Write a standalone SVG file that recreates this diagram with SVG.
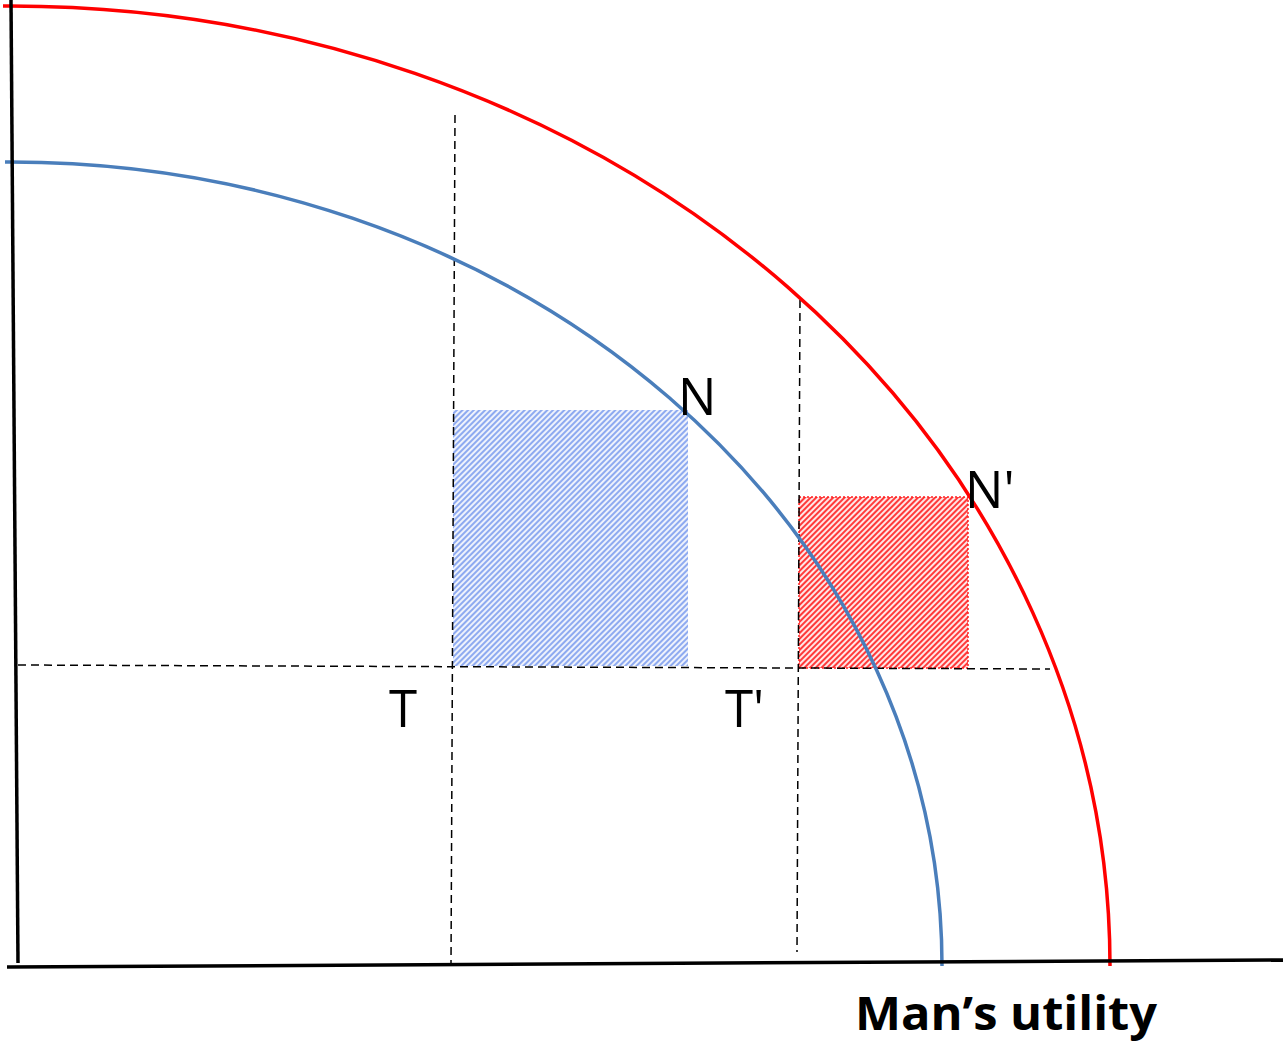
<svg xmlns="http://www.w3.org/2000/svg" width="1283" height="1046" viewBox="0 0 1283 1046">
<style>
.axis{stroke:#000;stroke-width:3.5;fill:none}
.dash{stroke:#000;stroke-width:1.5;stroke-dasharray:8 5;fill:none}
.lbl{font-family:"Open Sans","Liberation Sans",sans-serif;font-size:51px;fill:#000}
.ttl{font-family:"Open Sans","Liberation Sans",sans-serif;font-size:46px;font-weight:bold;fill:#000}
</style>
<defs>
<pattern id="hb" patternUnits="userSpaceOnUse" width="4" height="4" patternTransform="rotate(45)">
<rect width="4" height="4" fill="#eef2fc"/>
<rect width="2" height="4" fill="#8eaaf0"/>
</pattern>
<pattern id="hr" patternUnits="userSpaceOnUse" width="4" height="4" patternTransform="rotate(45)">
<rect width="4" height="4" fill="#ffe6e6"/>
<rect width="2" height="4" fill="#ff3a3a"/>
</pattern>
</defs>
<rect width="1283" height="1046" fill="#fff"/>
<g id="areas">
<rect id="blue-area" x="453" y="410" width="235" height="256" fill="url(#hb)"/>
<rect id="red-area" x="799" y="497" width="169" height="171" fill="url(#hr)" stroke="#ff2020" stroke-width="1.5" stroke-dasharray="2 2"/>
</g>
<g id="connectors">
<line class="dash" x1="455" y1="115" x2="451" y2="965"/>
<line class="dash" x1="800" y1="300" x2="797" y2="952"/>
<line class="dash" x1="18" y1="665" x2="1050" y2="669"/>
<path id="blue-curve" d="M5,162 L10,162 A932,804 0 0 1 942,966" stroke="#4a7ebb" stroke-width="3.5" fill="none"/>
<path id="red-curve" d="M3,6 L10,6 A1100,960 0 0 1 1110,966" stroke="#ff0000" stroke-width="3.5" fill="none"/>
<line class="axis" x1="11" y1="0" x2="18" y2="963"/>
<line class="axis" x1="7" y1="967" x2="1283" y2="960"/>
</g>
<g id="labels">
<text class="lbl" x="678" y="415">N</text>
<text class="lbl" x="965" y="508">N'</text>
<text class="lbl" x="389" y="727">T</text>
<text class="lbl" x="725" y="727">T'</text>
<text class="ttl" x="855" y="1030" textLength="302" lengthAdjust="spacingAndGlyphs">Man’s utility</text>
</g>
</svg>
